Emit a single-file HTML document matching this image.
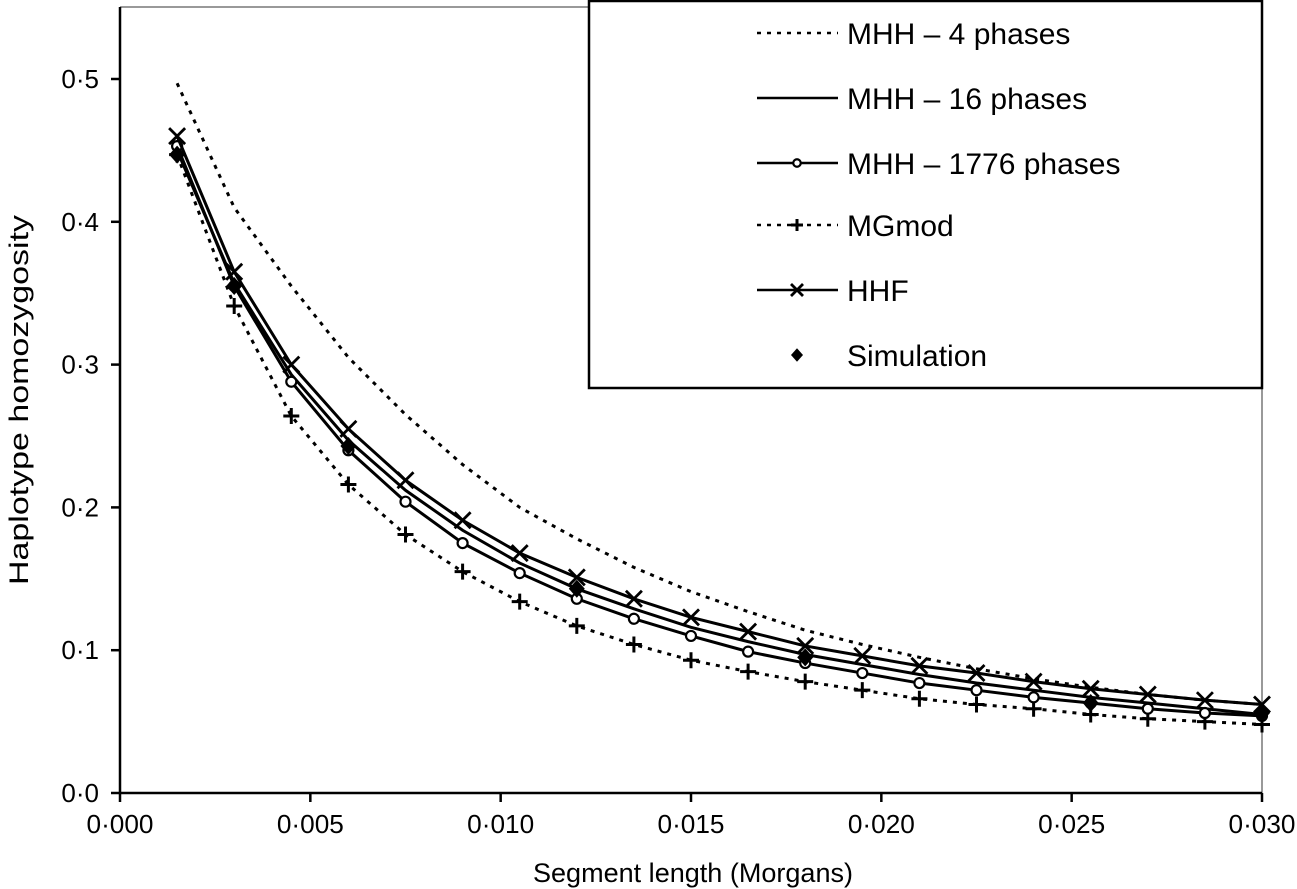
<!DOCTYPE html>
<html><head><meta charset="utf-8"><style>
html,body{margin:0;padding:0;background:#fff;}
svg{display:block;font-family:"Liberation Sans",Arial,sans-serif;}
</style></head><body>
<svg id="chart" width="1297" height="889" viewBox="0 0 1297 889"></svg>
<script>
const xs=[0.0015,0.003,0.0045,0.006,0.0075,0.009,0.0105,0.012,0.0135,0.015,0.0165,0.018,0.0195,0.021,0.0225,0.024,0.0255,0.027,0.0285,0.030];
const mhh4=[0.497,0.41,0.355,0.305,0.265,0.230,0.200,0.178,0.158,0.141,0.127,0.114,0.104,0.095,0.087,0.080,0.074,0.069,0.065,0.062];
const mhh16=[0.450,0.357,0.293,0.247,0.212,0.184,0.161,0.143,0.129,0.116,0.106,0.097,0.090,0.083,0.077,0.072,0.067,0.063,0.059,0.055];
const mhh1776=[0.453,0.355,0.288,0.240,0.204,0.175,0.154,0.136,0.122,0.110,0.099,0.091,0.084,0.077,0.072,0.067,0.063,0.059,0.056,0.054];
const mgmod=[0.447,0.341,0.264,0.216,0.181,0.155,0.134,0.117,0.104,0.093,0.085,0.078,0.072,0.066,0.062,0.059,0.055,0.052,0.050,0.048];
const hhf=[0.460,0.365,0.300,0.255,0.219,0.191,0.168,0.151,0.136,0.123,0.113,0.103,0.096,0.089,0.084,0.078,0.073,0.069,0.065,0.062];
const simX=[0.0015,0.003,0.006,0.012,0.018,0.0255,0.030];
const simY=[0.447,0.355,0.243,0.143,0.095,0.063,0.056];
const xTicks=[0,0.005,0.010,0.015,0.020,0.025,0.030];
const xTickLabels=["0·000","0·005","0·010","0·015","0·020","0·025","0·030"];
const yTicks=[0,0.1,0.2,0.3,0.4,0.5];
const yTickLabels=["0·0","0·1","0·2","0·3","0·4","0·5"];

const NS="http://www.w3.org/2000/svg";
const svg=document.getElementById('chart');
const X0=120,X1=1262,Y0=793,YT=7;
const sx=v=>X0+(v/0.030)*(X1-X0);
const sy=v=>Y0-(v/0.5)*(Y0-79);
function mk(tag,attrs,parent){const e=document.createElementNS(NS,tag);for(const k in attrs)e.setAttribute(k,attrs[k]);(parent||svg).appendChild(e);return e;}

let f=mk('path',{d:`M${X0} ${YT}H${X1}V${Y0}`,fill:'none',stroke:'#999','stroke-width':2});


let ax=mk('path',{d:`M${X0} ${YT}V${Y0}H${X1}`,fill:'none',stroke:'#000','stroke-width':2.5});



xTicks.forEach((t,i)=>{
  const x=sx(t);
  mk('line',{x1:x,x2:x,y1:Y0,y2:Y0+9,stroke:'#000','stroke-width':2.5});
  const tx=mk('text',{x:x,y:Y0+40,'font-size':26,'text-anchor':'middle',textLength:67,lengthAdjust:'spacingAndGlyphs'});
  tx.textContent=xTickLabels[i];
  
  
});
yTicks.forEach((t,i)=>{
  const y=sy(t);
  mk('line',{x1:X0-9,x2:X0,y1:y,y2:y,stroke:'#000','stroke-width':2.5});
  const tx=mk('text',{x:X0-21,y:y+9,'font-size':26,'text-anchor':'end'});
  tx.textContent=yTickLabels[i];
  
  
});
let xt=mk('text',{x:693,y:882,'font-size':27,'text-anchor':'middle',textLength:320,lengthAdjust:'spacingAndGlyphs'});
xt.textContent='Segment length (Morgans)';


let yt=mk('text',{x:0,y:0,'font-size':27,'text-anchor':'middle',textLength:370,lengthAdjust:'spacingAndGlyphs',transform:'translate(28,400) rotate(-90)'});
yt.textContent='Haplotype homozygosity';



function marker(type,x,y,g,s){
  s=s||1;
  if(type==='o')mk('circle',{cx:x,cy:y,r:5*s,fill:'#fff',stroke:'#000','stroke-width':2.2},g);
  else if(type==='+')mk('path',{d:`M${x-8*s} ${y}H${x+8*s}M${x} ${y-8*s}V${y+8*s}`,stroke:'#000','stroke-width':3},g);
  else if(type==='x')mk('path',{d:`M${x-8*s} ${y-8*s}L${x+8*s} ${y+8*s}M${x+8*s} ${y-8*s}L${x-8*s} ${y+8*s}`,stroke:'#000','stroke-width':2.8},g);
  else if(type==='d')mk('path',{d:`M${x} ${y-9*s}L${x+8*s} ${y}L${x} ${y+9*s}L${x-8*s} ${y}Z`,fill:'#000'},g);
}
function series(name,ys,dash,mtype){
  const g=mk('g',{});
  
  
  const pts=xs.map((x,i)=>sx(x)+','+sy(ys[i])).join(' ');
  mk('polyline',{points:pts,fill:'none',stroke:'#000','stroke-width':3,'stroke-dasharray':dash||'none'},g);
  if(mtype)xs.forEach((x,i)=>marker(mtype,sx(x),sy(ys[i]),g));
}
series('series-mhh-4',mhh4,'4 6',null);
series('series-mgmod',mgmod,'4 6','+');
series('series-mhh-16',mhh16,null,null);
series('series-mhh-1776',mhh1776,null,'o');
series('series-hhf',hhf,null,'x');
const sg=mk('g',{});


simX.forEach((x,i)=>marker('d',sx(x),sy(simY[i]),sg));

const lg=mk('g',{});


mk('rect',{x:589,y:1,width:673,height:387,fill:'#fff',stroke:'#000','stroke-width':2.5},lg);
const legNames=['MHH – 4 phases','MHH – 16 phases','MHH – 1776 phases','MGmod','HHF','Simulation'];
const legDash=['4 6',null,null,'4 6',null,'none'];
const legMark=[null,null,'o','+','x','d'];
const legY=[33,98,163,225,290,355];
legNames.forEach((n,i)=>{
  const e=mk('g',{},lg);
  
  
  const y=legY[i];
  if(legDash[i]!=='none')mk('line',{x1:757,x2:838,y1:y,y2:y,stroke:'#000','stroke-width':2.5,'stroke-dasharray':legDash[i]||'none'},e);
  if(legMark[i])marker(legMark[i],797,y,e,0.75);
  const t=mk('text',{x:847,y:y+11,'font-size':30},e);
  t.textContent=n;
});
</script>
</body></html>
